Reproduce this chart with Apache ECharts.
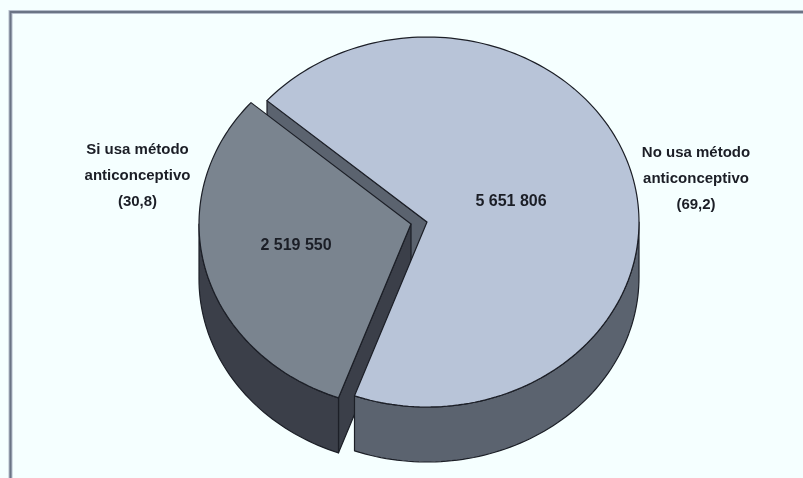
<!DOCTYPE html>
<html>
<head>
<meta charset="utf-8">
<style>html,body{margin:0;padding:0;background:#f5ffff}#c{width:803px;height:478px}</style>
<script src="https://cdn.jsdelivr.net/npm/echarts@6/dist/echarts.min.js"></script>
</head>
<body>
<div id="c"></div>
<script>
const categories = ['No usa método\nanticonceptivo', 'Si usa método\nanticonceptivo'];
const values = [5651806, 2519550];
const percents = ['69,2', '30,8'];

const topColors = ['#b8c4d8', '#7a848f'];
const wallColors = ['#5b636f', '#3b3f49'];
const offsets = [[0, 0], [-16, 2]];
const valueLabelPos = [[511, 201.5], [296, 245.5]];
const categoryLabelPos = [[696, 178.5], [137.5, 175.5]];

const cx = 427, cy = 222, rx = 212, ry = 185, depth = 55, startDeg = -49;
const total = values.reduce((s, v) => s + v, 0);
const edge = '#1c1f27';

function fmt(v) { return String(v).replace(/\B(?=(\d{3})+$)/g, ' '); }

function renderItem(params, api) {
  const i = params.dataIndex;
  let from = startDeg;
  for (let k = 0; k < i; k++) from += values[k] / total * 360;
  const to = from + api.value(0) / total * 360;
  const ox = cx + offsets[i][0], oy = cy + offsets[i][1];
  const pt = (deg, d) => {
    const t = deg * Math.PI / 180;
    return [ox + rx * Math.sin(t), oy - ry * Math.cos(t) + (d || 0)];
  };
  const arc = (a, b, d) => {
    const n = Math.max(2, Math.ceil(Math.abs(b - a) / 1.5)), out = [];
    for (let k = 0; k <= n; k++) out.push(pt(a + (b - a) * k / n, d));
    return out;
  };
  const poly = (points, fill, z2) => ({
    type: 'polygon', shape: { points }, z2,
    style: { fill, stroke: edge, lineWidth: 1.2, lineJoin: 'round' }, silent: true
  });
  const children = [];
  // draw order: cut faces of every slice first, then wall and top slice by slice
  const sideFace = (deg) => children.push(poly(
    [[ox, oy], pt(deg), pt(deg, depth), [ox, oy + depth]], wallColors[i], 1 + i));
  if (Math.sin(from * Math.PI / 180) < 0) sideFace(from);
  if (Math.sin(to * Math.PI / 180) > 0) sideFace(to);
  const wa = Math.max(from, 90), wb = Math.min(to, 270);
  if (wb > wa) children.push(poly(arc(wa, wb, 0).concat(arc(wb, wa, depth)), wallColors[i], 3 + 2 * i));
  children.push(poly([[ox, oy]].concat(arc(from, to, 0)), topColors[i], 4 + 2 * i));
  children.push({
    type: 'text', silent: true, z2: 10,
    style: {
      text: fmt(api.value(0)), x: valueLabelPos[i][0], y: valueLabelPos[i][1],
      align: 'center', verticalAlign: 'middle', fill: '#1b1e26',
      font: 'bold 16px "Liberation Sans", Arial, sans-serif'
    }
  });
  children.push({
    type: 'text', silent: true, z2: 10,
    style: {
      text: categories[i] + '\n(' + percents[i] + ')',
      x: categoryLabelPos[i][0], y: categoryLabelPos[i][1],
      align: 'center', verticalAlign: 'middle', lineHeight: 26, fill: '#1b1e26',
      font: 'bold 15px "Liberation Sans", Arial, sans-serif'
    }
  });
  return { type: 'group', children };
}

const chart = echarts.init(document.getElementById('c'), null, { renderer: 'canvas' });
chart.setOption({
  animation: false,
  backgroundColor: '#f5ffff',
  graphic: [
    { type: 'polyline', shape: { points: [[10.5, 478], [10.5, 12], [803, 12]] }, style: { fill: 'none', stroke: '#b4bdca', lineWidth: 4 }, z: 0 },
    { type: 'polyline', shape: { points: [[10.5, 478], [10.5, 12], [803, 12]] }, style: { fill: 'none', stroke: '#6a7485', lineWidth: 2 }, z: 1 }
  ],
  series: [{
    type: 'custom',
    coordinateSystem: 'none',
    renderItem,
    data: values.map(v => [v]),
    z: 5
  }]
});
</script>
</body>
</html>
